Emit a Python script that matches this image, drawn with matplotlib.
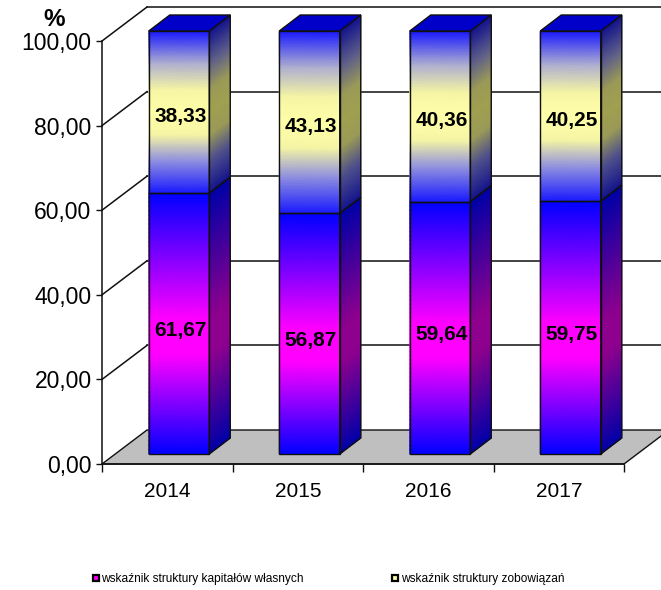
import numpy as np
import matplotlib
matplotlib.use("Agg")
import matplotlib.pyplot as plt
from matplotlib.colors import LinearSegmentedColormap
from matplotlib.lines import Line2D
from matplotlib.patches import Polygon

lata = ["2014", "2015", "2016", "2017"]
kapitaly = [61.67, 56.87, 59.64, 59.75]
zobowiazania = [38.33, 43.13, 40.36, 40.25]
y_ticks = [0, 20, 40, 60, 80, 100]
y_labels = ["0,00", "20,00", "40,00", "60,00", "80,00", "100,00"]
legenda = ["wskaźnik struktury kapitałów własnych", "wskaźnik struktury zobowiązań"]

plt.rcParams["font.family"] = ["Liberation Sans", "DejaVu Sans"]

W, H = 661, 590
PX_X = 130.5   # px na kategorie
PX_Y = 4.23    # px na jednostke
# przesuniecia 3D, w pikselach
WALL_DX, WALL_DY = 45 / PX_X, 34 / PX_Y
BAR_DX, BAR_DY = 11.75 / PX_X, 10 / PX_Y
SIDE_DX, SIDE_DY = 21 / PX_X, 16 / PX_Y
BAR_W = 60.5 / PX_X

cm_low = LinearSegmentedColormap.from_list("low", [
    (0, "#0000ff"), (.38, "#ff00ff"), (.52, "#ff00ff"), (1, "#0000ff")])
cm_low_side = LinearSegmentedColormap.from_list("low_s", [
    (0, "#0000a8"), (.38, "#8e008e"), (.52, "#8e008e"), (1, "#0000a8")])
cm_up = LinearSegmentedColormap.from_list("up", [
    (0, "#1a1aff"), (.2, "#8f8fe0"), (.36, "#f5f5a5"), (.5, "#ffffa8"),
    (.64, "#f5f5a5"), (.8, "#b0b0d0"), (1, "#1a1aff")])
cm_up_side = LinearSegmentedColormap.from_list("up_s", [
    (0, "#14148c"), (.2, "#50508c"), (.36, "#9a9a58"), (.5, "#a0a050"),
    (.64, "#9a9a58"), (.8, "#60608a"), (1, "#14148c")])

fig = plt.figure(figsize=(W / 100, H / 100), dpi=100)
ax = fig.add_axes([102 / W, (H - 464) / H, 522 / W, 423 / H])
ax.set_xlim(-0.5, 3.5)
ax.set_ylim(0, 100)
ax.patch.set_alpha(0)


def draw_face(x0, x1, y0, y1, slant, cmap, z):
    """Sciana z gradientem w pionie; slant to przesuniecie prawej krawedzi."""
    t = np.linspace(0, 1, 60)
    X = np.column_stack([np.full_like(t, x0), np.full_like(t, x1)])
    Y = np.column_stack([y0 + (y1 - y0) * t, y0 + (y1 - y0) * t + slant])
    C = np.column_stack([t, t])
    ax.pcolormesh(X, Y, C, cmap=cmap, shading="gouraud", vmin=0, vmax=1,
                  clip_on=False, zorder=z)
    ax.add_patch(Polygon([(x0, y0), (x1, y0 + slant), (x1, y1 + slant), (x0, y1)],
                         fill=False, ec="#101010", lw=1.0, clip_on=False, zorder=z + 0.1))


# podloga
ax.add_patch(Polygon([(-0.5, 0), (3.5, 0), (3.5 + WALL_DX, WALL_DY), (-0.5 + WALL_DX, WALL_DY)],
                     fc="#bfbfbf", ec="#101010", lw=1.0, clip_on=False, zorder=1))

# siatka
for v in y_ticks[1:]:
    ax.plot([-0.5, -0.5 + WALL_DX], [v, v + WALL_DY], color="#101010", lw=1.1,
            clip_on=False, zorder=0.5)
    ax.plot([-0.5 + WALL_DX, 3.5 + WALL_DX], [v + WALL_DY, v + WALL_DY], color="#101010",
            lw=1.1, clip_on=False, zorder=0.5)

# slupki
for i, (k, z) in enumerate(zip(kapitaly, zobowiazania)):
    x0 = i + BAR_DX - BAR_W / 2
    x1 = x0 + BAR_W
    x2 = x1 + SIDE_DX
    y0 = BAR_DY
    y1 = y0 + k
    y2 = y1 + z
    z0 = 3 + i
    draw_face(x1, x2, y0, y1, SIDE_DY, cm_low_side, z0)
    draw_face(x1, x2, y1, y2, SIDE_DY, cm_up_side, z0)
    draw_face(x0, x1, y0, y1, 0, cm_low, z0)
    draw_face(x0, x1, y1, y2, 0, cm_up, z0)
    ax.add_patch(Polygon([(x0, y2), (x1, y2), (x2, y2 + SIDE_DY), (x0 + SIDE_DX, y2 + SIDE_DY)],
                         fc="#0000c8", ec="#101010", lw=1.0, clip_on=False, zorder=z0 + 0.2))
    for val, mid, off in ((k, y0 + k / 2, -5), (z, y1 + z / 2, -3)):
        ax.annotate(f"{val:.2f}".replace(".", ","), (i + BAR_DX, mid), xytext=(1, off),
                    textcoords="offset points", ha="center", va="center",
                    fontsize=15, fontweight="bold", color="black", zorder=20)

# osie
for s in ("top", "right"):
    ax.spines[s].set_visible(False)
for s in ("left", "bottom"):
    ax.spines[s].set_color("#101010")
    ax.spines[s].set_linewidth(1.1)
    ax.spines[s].set_zorder(2)
ax.set_yticks(y_ticks)
ax.set_yticklabels(y_labels, fontsize=16.5)
ax.set_xticks(range(len(lata)))
ax.set_xticklabels(lata, fontsize=15)
ax.set_xticks(np.arange(-0.5, 4), minor=True)
ax.tick_params(axis="x", which="major", length=0, pad=13)
ax.tick_params(axis="x", which="minor", length=5.5, width=1.0, color="#101010")
ax.tick_params(axis="y", length=4.5, width=1.0, color="#101010", pad=3)

fig.text(54 / W, 1 - 20 / H, "%", ha="center", va="center", fontsize=17.5, fontweight="bold")

handles = [
    Line2D([], [], ls="none", marker="s", ms=4.5, mfc="#ff00ff", mec="black", mew=1.6, label=legenda[0]),
    Line2D([], [], ls="none", marker="s", ms=4.5, mfc="#ffffa8", mec="black", mew=1.6, label=legenda[1]),
]
fig.legend(handles=handles, ncol=2, frameon=False, fontsize=8.6, handlelength=0.6,
           handletextpad=0.15, columnspacing=7.4, loc="center left",
           bbox_to_anchor=(92 / W, 1 - 579 / H), borderpad=0, borderaxespad=0)

fig.savefig("out.png", dpi=100)
